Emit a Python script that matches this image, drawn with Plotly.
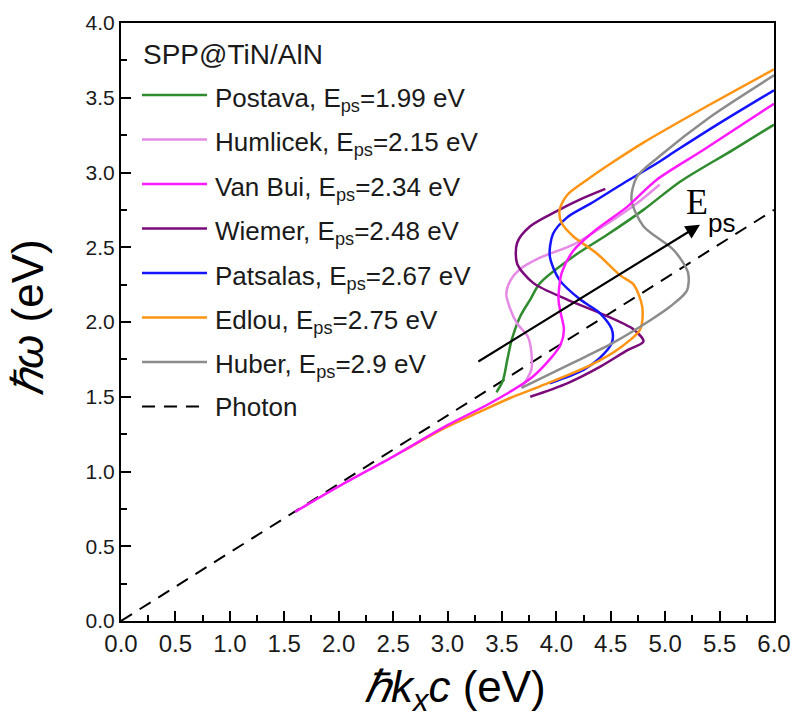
import plotly.graph_objects as go

# ---------------- data ----------------
names = ["Postava", "Humlicek", "Van Bui", "Wiemer", "Patsalas", "Edlou", "Huber"]
eps = ["1.99", "2.15", "2.34", "2.48", "2.67", "2.75", "2.9"]
colors = ["#2e8b2e", "#e58ae5", "#ff1aff", "#7a0a7a", "#1414ff", "#ff9414", "#8c8c8c"]

postava_x = [3.45, 3.51, 3.55, 3.59, 3.67, 3.76, 3.85, 4.16, 4.46, 4.80, 5.14, 5.62, 6.00]
postava_y = [1.53, 1.61, 1.75, 1.88, 2.04, 2.15, 2.26, 2.44, 2.58, 2.75, 2.94, 3.15, 3.32]

humlicek_x = [3.68, 3.77, 3.77, 3.74, 3.64, 3.57, 3.54, 3.58, 3.66, 3.85, 4.16, 4.45, 4.75, 4.95]
humlicek_y = [1.56, 1.68, 1.80, 1.90, 1.99, 2.10, 2.19, 2.28, 2.35, 2.43, 2.52, 2.65, 2.80, 2.92]

vanbui_x = [1.60, 2.00, 2.50, 3.00, 3.40, 3.76, 3.94, 4.04, 4.07, 4.04, 4.02, 4.05, 4.16, 4.37, 4.65, 4.92, 5.35, 6.00]
vanbui_y = [0.73, 0.90, 1.10, 1.31, 1.46, 1.62, 1.75, 1.85, 1.95, 2.06, 2.15, 2.33, 2.48, 2.62, 2.77, 2.95, 3.15, 3.46]

wiemer_x = [3.76, 4.10, 4.40, 4.65, 4.80, 4.71, 4.40, 4.10, 3.79, 3.64, 3.64, 3.76, 4.00, 4.22, 4.45]
wiemer_y = [1.50, 1.59, 1.70, 1.81, 1.87, 1.95, 2.06, 2.15, 2.26, 2.39, 2.53, 2.64, 2.74, 2.82, 2.89]

patsalas_x = [3.94, 4.25, 4.40, 4.51, 4.51, 4.40, 4.22, 4.03, 3.94, 3.97, 4.10, 4.31, 4.62, 4.92, 5.11, 5.50, 6.00]
patsalas_y = [1.59, 1.68, 1.76, 1.86, 1.95, 2.06, 2.15, 2.28, 2.44, 2.59, 2.70, 2.79, 2.93, 3.06, 3.15, 3.33, 3.55]

edlou_x = [2.60, 3.00, 3.30, 3.57, 3.85, 4.31, 4.59, 4.77, 4.79, 4.71, 4.59, 4.37, 4.16, 4.05, 4.03, 4.10, 4.28, 4.50, 4.80, 5.40, 6.00]
edlou_y = [1.14, 1.30, 1.40, 1.49, 1.57, 1.71, 1.83, 1.95, 2.10, 2.25, 2.31, 2.46, 2.57, 2.66, 2.75, 2.85, 2.95, 3.06, 3.20, 3.45, 3.69]

huber_x = [3.68, 4.16, 4.52, 4.86, 5.04, 5.20, 5.21, 5.08, 4.80, 4.69, 4.74, 4.95, 5.41, 6.00]
huber_y = [1.56, 1.73, 1.86, 2.01, 2.10, 2.21, 2.33, 2.48, 2.64, 2.82, 2.97, 3.11, 3.37, 3.65]

photon_x = [0.0, 6.0]
photon_y = [0.0, 2.75]

arrow_start = (3.27, 1.73)
arrow_end = (5.32, 2.65)

series_x = [postava_x, humlicek_x, vanbui_x, wiemer_x, patsalas_x, edlou_x, huber_x]
series_y = [postava_y, humlicek_y, vanbui_y, wiemer_y, patsalas_y, edlou_y, huber_y]

x_ticks = [i * 0.5 for i in range(13)]
y_ticks = [i * 0.5 for i in range(9)]

# ---------------- figure ----------------
fig = go.Figure()

fig.add_trace(go.Scatter(x=photon_x, y=photon_y, mode="lines",
                         line=dict(color="black", width=2, dash="13px,9px"),
                         showlegend=False))

draw_order = [0, 1, 3, 4, 5, 6, 2]
for i in draw_order:
    fig.add_trace(go.Scatter(x=series_x[i], y=series_y[i], mode="lines",
                             line=dict(color=colors[i], width=2.5, shape="spline", smoothing=0.8),
                             name=names[i], showlegend=False))

# arrow + label
fig.add_annotation(x=arrow_end[0], y=arrow_end[1], ax=arrow_start[0], ay=arrow_start[1],
                   xref="x", yref="y", axref="x", ayref="y", text="",
                   showarrow=True, arrowhead=2, arrowsize=1.3, arrowwidth=2.2, arrowcolor="black")
fig.add_annotation(x=5.29, y=2.80, xref="x", yref="y", text="E", showarrow=False,
                   xanchor="center", yanchor="middle",
                   font=dict(family="Liberation Serif", size=36, color="black"))
fig.add_annotation(x=5.52, y=2.66, xref="x", yref="y", text="ps", showarrow=False,
                   xanchor="center", yanchor="middle",
                   font=dict(family="Liberation Sans", size=26, color="black"))

# manual legend
L, R, T, B = 121, 774, 23, 621
W, H = R - L, B - T
def px(x):
    return (x - L) / W
def py(y):
    return (B - y) / H

fig.add_annotation(x=px(141), y=py(55), xref="paper", yref="paper", xanchor="left", yanchor="middle",
                   text="SPP@TiN/AlN", showarrow=False,
                   font=dict(family="Liberation Sans", size=28, color="#1a1a1a"))

rows = [95, 139.5, 184, 228.5, 273, 317.5, 362, 406.5]
for i in range(7):
    fig.add_shape(type="line", xref="paper", yref="paper",
                  x0=px(142), x1=px(207), y0=py(rows[i]), y1=py(rows[i]),
                  line=dict(color=colors[i], width=2.5))
    fig.add_annotation(x=px(213), y=py(rows[i] + 4), xref="paper", yref="paper",
                       xanchor="left", yanchor="middle", showarrow=False,
                       text=f"{names[i]}, E<sub>ps</sub>={eps[i]} eV",
                       font=dict(family="Liberation Sans", size=26, color="#1a1a1a"))
fig.add_shape(type="line", xref="paper", yref="paper",
              x0=px(142), x1=px(207), y0=py(rows[7]), y1=py(rows[7]),
              line=dict(color="black", width=2, dash="13px,9px"))
fig.add_annotation(x=px(213), y=py(rows[7]), xref="paper", yref="paper",
                   xanchor="left", yanchor="middle", showarrow=False, text="Photon",
                   font=dict(family="Liberation Sans", size=26, color="#1a1a1a"))

# axis titles
fig.add_annotation(x=px(455), y=py(690), xref="paper", yref="paper", showarrow=False,
                   xanchor="center", yanchor="middle",
                   text="<i>ℏk<sub>x</sub>c</i> (eV)",
                   font=dict(family="Liberation Sans", size=44, color="black"))
fig.add_annotation(x=px(27), y=py(318), xref="paper", yref="paper", showarrow=False,
                   xanchor="center", yanchor="middle",
                   text="<i>ℏω</i> (eV)", textangle=-90,
                   font=dict(family="Liberation Sans", size=44, color="black"))

axis_common = dict(showgrid=False, zeroline=False, showline=True, linecolor="black", linewidth=2,
                   mirror=True, ticks="inside", ticklen=10, tickwidth=1.5, tickcolor="black")

fig.update_xaxes(range=[0, 6], tickvals=x_ticks, ticktext=[f"{v:.1f}" for v in x_ticks],
                 tickfont=dict(family="Liberation Sans", size=24, color="#1a1a1a"),
                 minor=dict(dtick=0.25, tick0=0, ticks="inside", ticklen=6, tickcolor="black"),
                 **axis_common)
fig.update_yaxes(range=[0, 4], tickvals=y_ticks, ticktext=[f"{v:.1f}" for v in y_ticks],
                 tickfont=dict(family="Liberation Sans", size=21, color="#1a1a1a"),
                 minor=dict(dtick=0.25, tick0=0, ticks="inside", ticklen=6, tickcolor="black"),
                 **axis_common)

fig.update_layout(width=793, height=722, plot_bgcolor="white", paper_bgcolor="white",
                  margin=dict(l=L, r=793 - R, t=T, b=722 - B, autoexpand=False),
                  showlegend=False)

fig.write_html("out.html")
